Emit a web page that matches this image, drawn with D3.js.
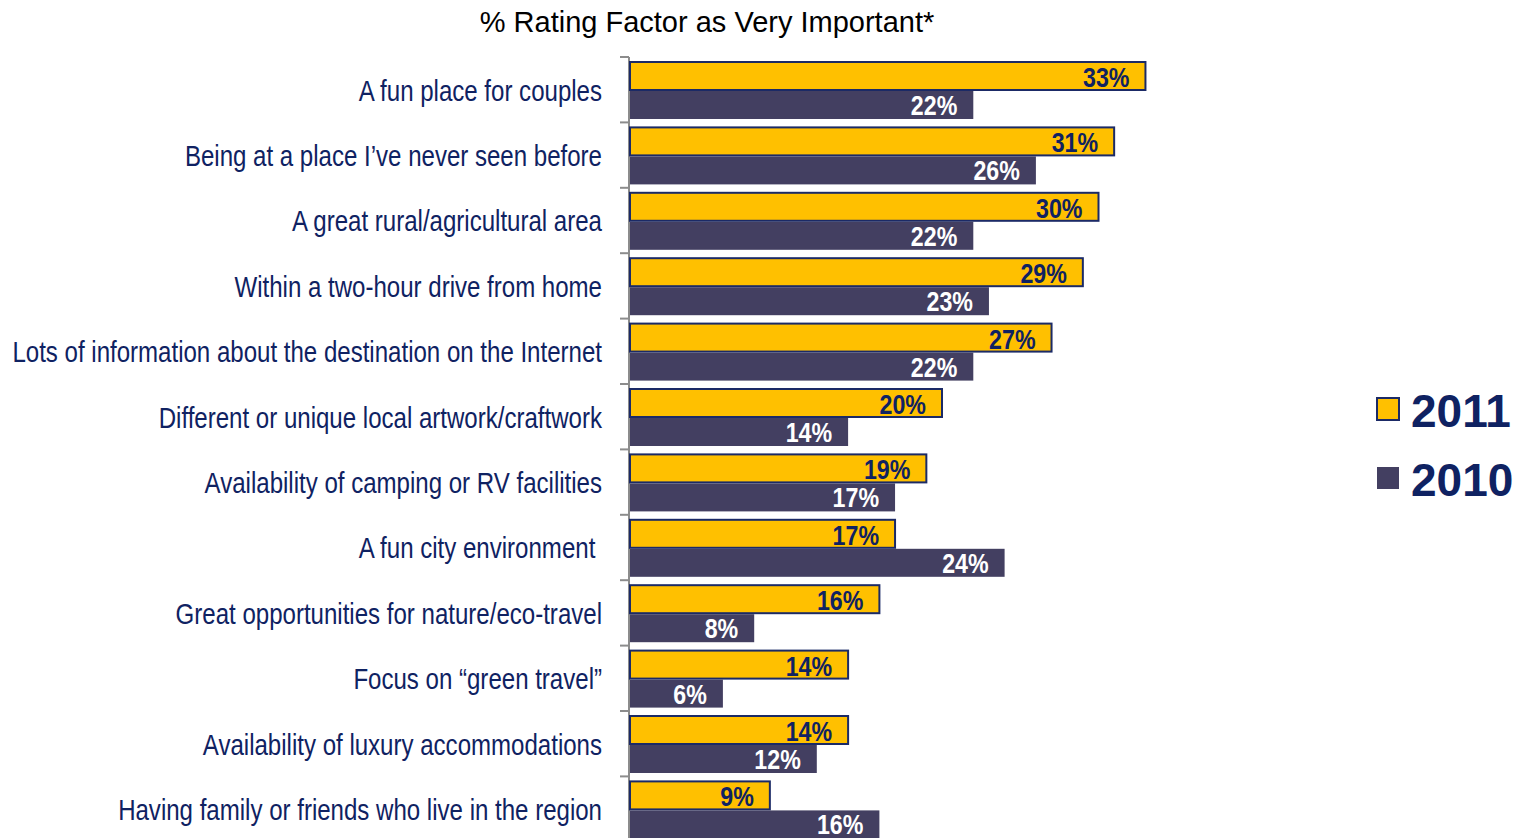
<!DOCTYPE html>
<html>
<head>
<meta charset="utf-8">
<script src="https://cdn.jsdelivr.net/npm/d3@7"></script>
<style>
  html, body { margin: 0; padding: 0; background: #fff; }
  svg { display: block; }
  text { white-space: pre; }
</style>
</head>
<body>
<svg id="chart" width="1524" height="838"></svg>
<script>
// Factors rated as "very important", 2011 vs 2010
const categories = [
  "A fun place for couples",
  "Being at a place I\u2019ve never seen before",
  "A great rural/agricultural area",
  "Within a two-hour drive from home",
  "Lots of information about the destination on the Internet",
  "Different or unique local artwork/craftwork",
  "Availability of camping or RV facilities",
  "A fun city environment ",
  "Great opportunities for nature/eco-travel",
  "Focus on \u201cgreen travel\u201d",
  "Availability of luxury accommodations",
  "Having family or friends who live in the region"
];
const values2011 = [33, 31, 30, 29, 27, 20, 19, 17, 16, 14, 14, 9];
const values2010 = [22, 26, 22, 23, 22, 14, 17, 24, 8, 6, 12, 16];
const seriesNames = ["2011", "2010"];
const titleText = "% Rating Factor as Very Important*";

const svg = d3.select("#chart");
const navy = "#0f2262";
const gold = "#ffc000";
const slate = "#433f61";
const sans = "'Liberation Sans', Arial, sans-serif";

const x = d3.scaleLinear().domain([0, 100]).range([629, 2194]);
const y = d3.scaleBand().domain(categories).range([57, 57 + 65.4 * categories.length]);

// narrow face: regular sans squeezed horizontally
function narrowText(sel, px, py, k) {
  return sel.attr("transform", (d, i) => `translate(${px(d, i)},${py(d, i)}) scale(${k},1)`)
    .attr("x", 0).attr("y", 0)
    .attr("font-family", sans);
}

// title
svg.append("text")
  .attr("x", 707).attr("y", 32)
  .attr("text-anchor", "middle")
  .attr("font-family", sans)
  .attr("font-size", 29)
  .attr("fill", "#000")
  .text(titleText);

// axis line and band separators
const axisG = svg.append("g").attr("stroke", "#8c8c8c").attr("stroke-width", 2);
axisG.append("line")
  .attr("x1", 629).attr("x2", 629)
  .attr("y1", y.range()[0]).attr("y2", y.range()[1]);
const tickYs = categories.map(c => y(c)).concat([y.range()[1]]);
axisG.selectAll("line.tick").data(tickYs).join("line")
  .attr("class", "tick")
  .attr("x1", 620).attr("x2", 629)
  .attr("y1", d => d).attr("y2", d => d);

// category labels
svg.append("g").selectAll("text").data(categories).join("text")
  .call(narrowText, () => 602, d => y(d) + 43.5, 0.83)
  .attr("text-anchor", "end")
  .attr("font-size", 29)
  .attr("fill", navy)
  .text(d => d);

const rows = categories.map((c, i) => ({ c, v11: values2011[i], v10: values2010[i] }));

// 2011 bars
const g11 = svg.append("g");
g11.selectAll("rect").data(rows).join("rect")
  .attr("x", x(0) + 1)
  .attr("y", d => y(d.c) + 5)
  .attr("width", d => x(d.v11) - x(0) - 1)
  .attr("height", 28)
  .attr("fill", gold)
  .attr("stroke", "#1b2a66")
  .attr("stroke-width", 2);
g11.selectAll("text").data(rows).join("text")
  .call(narrowText, d => x(d.v11) - 16, d => y(d.c) + 30, 0.86)
  .attr("text-anchor", "end")
  .attr("font-weight", "bold")
  .attr("font-size", 27)
  .attr("fill", navy)
  .text(d => d.v11 + "%");

// 2010 bars
const g10 = svg.append("g");
g10.selectAll("rect").data(rows).join("rect")
  .attr("x", x(0) + 1)
  .attr("y", d => y(d.c) + 34)
  .attr("width", d => x(d.v10) - x(0) - 1)
  .attr("height", 28)
  .attr("fill", slate);
g10.selectAll("text").data(rows).join("text")
  .call(narrowText, d => x(d.v10) - 16, d => y(d.c) + 58, 0.86)
  .attr("text-anchor", "end")
  .attr("font-weight", "bold")
  .attr("font-size", 27)
  .attr("fill", "#fff")
  .text(d => d.v10 + "%");

// legend
const legend = svg.append("g");
const legendColors = [gold, slate];
seriesNames.forEach((name, i) => {
  const ly = 397 + i * 69;
  legend.append("rect")
    .attr("x", 1377).attr("y", ly + 1)
    .attr("width", 22).attr("height", 22)
    .attr("fill", legendColors[i])
    .attr("stroke", i === 0 ? "#1b2a66" : "none")
    .attr("stroke-width", 2);
  legend.append("text")
    .attr("x", 1411).attr("y", ly + 30)
    .attr("font-family", sans)
    .attr("font-weight", "bold")
    .attr("font-size", 46)
    .attr("fill", navy)
    .text(name);
});
</script>
</body>
</html>
